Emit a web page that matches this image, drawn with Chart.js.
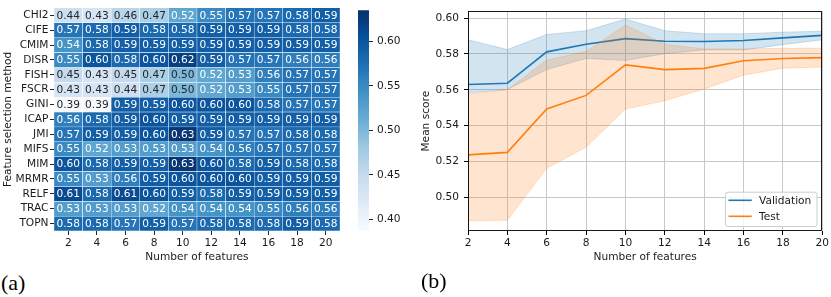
<!DOCTYPE html>
<html><head><meta charset="utf-8">
<script src="https://cdn.jsdelivr.net/npm/chart.js@4.4.0/dist/chart.umd.min.js"></script>
<style>
html,body{margin:0;padding:0;background:#fff;}
body{width:831px;height:297px;position:relative;overflow:hidden;}
canvas{position:absolute;top:0;}
.lab{position:absolute;font-family:'Liberation Serif','DejaVu Serif',serif;font-size:22px;color:#000;line-height:1;}
</style></head>
<body>
<canvas id="heat" width="345" height="270" style="left:0;width:345px;height:270px"></canvas>
<canvas id="cbar" width="60" height="270" style="left:350px;width:60px;height:270px"></canvas>
<canvas id="line" width="411" height="270" style="left:420px;width:411px;height:270px"></canvas>
<div class="lab" style="left:1px;top:272px">(a)</div>
<div class="lab" style="left:421px;top:270px">(b)</div>
<script>
// ---------- data ----------
const methods = ['CHI2','CIFE','CMIM','DISR','FISH','FSCR','GINI','ICAP','JMI','MIFS','MIM','MRMR','RELF','TRAC','TOPN'];
const featureCounts = [2,4,6,8,10,12,14,16,18,20];
const CHI2 = [0.44,0.43,0.46,0.47,0.52,0.55,0.57,0.57,0.58,0.59];
const CIFE = [0.57,0.58,0.59,0.58,0.58,0.59,0.59,0.59,0.58,0.58];
const CMIM = [0.54,0.58,0.59,0.59,0.59,0.59,0.59,0.59,0.59,0.59];
const DISR = [0.55,0.60,0.58,0.60,0.62,0.59,0.57,0.57,0.56,0.56];
const FISH = [0.45,0.43,0.45,0.47,0.50,0.52,0.53,0.56,0.57,0.57];
const FSCR = [0.43,0.43,0.44,0.47,0.50,0.52,0.53,0.55,0.57,0.57];
const GINI = [0.39,0.39,0.59,0.59,0.60,0.60,0.60,0.58,0.57,0.57];
const ICAP = [0.56,0.58,0.59,0.60,0.59,0.59,0.59,0.59,0.59,0.59];
const JMI  = [0.57,0.59,0.59,0.60,0.63,0.59,0.57,0.57,0.58,0.58];
const MIFS = [0.55,0.52,0.53,0.53,0.53,0.54,0.56,0.57,0.57,0.57];
const MIM  = [0.60,0.58,0.59,0.59,0.63,0.60,0.58,0.59,0.58,0.58];
const MRMR = [0.55,0.53,0.56,0.59,0.60,0.60,0.60,0.59,0.59,0.59];
const RELF = [0.61,0.58,0.61,0.60,0.59,0.58,0.59,0.59,0.59,0.59];
const TRAC = [0.53,0.53,0.53,0.52,0.54,0.54,0.54,0.55,0.56,0.56];
const TOPN = [0.58,0.58,0.57,0.59,0.57,0.58,0.58,0.58,0.59,0.58];
const heatRows = [CHI2,CIFE,CMIM,DISR,FISH,FSCR,GINI,ICAP,JMI,MIFS,MIM,MRMR,RELF,TRAC,TOPN];
const colorMin = 0.387, colorMax = 0.635;
const colorbarTicks = [0.40,0.45,0.50,0.55,0.60];

const valMean   = [0.5630,0.5637,0.5812,0.5854,0.5886,0.5871,0.5870,0.5875,0.5890,0.5904];
const valUpper  = [0.5880,0.5825,0.5909,0.5930,0.5995,0.5930,0.5913,0.5913,0.5922,0.5927];
const valLower  = [0.5582,0.5602,0.5713,0.5775,0.5764,0.5802,0.5823,0.5823,0.5852,0.5879];
const testMean  = [0.5237,0.5251,0.5493,0.5569,0.5739,0.5713,0.5720,0.5762,0.5775,0.5780];
const testUpper = [0.5575,0.5600,0.5766,0.5814,0.5962,0.5855,0.5828,0.5828,0.5832,0.5832];
const testLower = [0.4869,0.4872,0.5162,0.5280,0.5493,0.5539,0.5605,0.5682,0.5721,0.5727];
const scoreTicks = [0.50,0.52,0.54,0.56,0.58,0.60];

// ---------- helpers ----------
const FONT = '"DejaVu Sans", sans-serif';
const FS = 10.6;
const TXT = '#1a1a1a';
Chart.defaults.font.family = FONT;
Chart.defaults.font.size = FS;
Chart.defaults.color = TXT;
Chart.defaults.animation = false;

const BLUES = [[247,251,255],[222,235,247],[198,219,239],[158,202,225],[107,174,214],[66,146,198],[33,113,181],[8,81,156],[8,48,107]];
function bluesRGB(t){
  t = Math.max(0, Math.min(1, t));
  const p = t*8, i = Math.min(7, Math.floor(p)), f = p - i;
  const a = BLUES[i], b = BLUES[i+1];
  return [0,1,2].map(k => Math.round(a[k] + (b[k]-a[k])*f));
}
function cmap(v){ const c = bluesRGB((v-colorMin)/(colorMax-colorMin)); return `rgb(${c[0]},${c[1]},${c[2]})`; }
function lum(c){
  const l = c.map(x => { x/=255; return x <= 0.03928 ? x/12.92 : Math.pow((x+0.055)/1.055, 2.4); });
  return 0.2126*l[0] + 0.7152*l[1] + 0.0722*l[2];
}
function textColor(v){ return lum(bluesRGB((v-colorMin)/(colorMax-colorMin))) > 0.408 ? '#262626' : '#ffffff'; }

// ---------- heatmap ----------
const heatText = {
  id: 'heatText',
  afterDatasetsDraw(chart){
    const ctx = chart.ctx;
    ctx.save();
    ctx.font = `${FS}px ${FONT}`;
    ctx.textAlign = 'center';
    ctx.textBaseline = 'middle';
    chart.data.datasets.forEach((ds, r) => {
      chart.getDatasetMeta(r).data.forEach((el, c) => {
        const v = ds.values[c];
        ctx.fillStyle = textColor(v);
        ctx.fillText(v.toFixed(2), el.x, (el.y + el.base)/2 + 0.5);
      });
    });
    ctx.restore();
  }
};

new Chart(document.getElementById('heat'), {
  type: 'bar',
  data: {
    labels: featureCounts.map(String),
    datasets: heatRows.map((vals, r) => ({
      label: methods[r],
      values: vals,
      data: vals.map(() => [r, r+1]),
      backgroundColor: vals.map(cmap),
      borderColor: '#ffffff',
      borderWidth: 0.5,
      borderSkipped: false,
      grouped: false,
      barPercentage: 1,
      categoryPercentage: 1
    }))
  },
  options: {
    responsive: false,
    devicePixelRatio: 1,
    layout: { padding: { top: 1, right: 5, left: 0, bottom: 0 } },
    plugins: { legend: { display: false }, tooltip: { enabled: false } },
    scales: {
      x: {
        type: 'category',
        grid: { display: true, drawOnChartArea: false, drawTicks: true, tickLength: 4, offset: false, color: '#262626', tickColor: '#262626' },
        border: { display: false },
        ticks: { padding: 2, maxRotation: 0, color: TXT },
        title: { display: true, text: 'Number of features', padding: { top: 0, bottom: 6 }, color: TXT },
        afterFit: s => { s.height = 39; }
      },
      y: {
        type: 'linear', min: 0, max: methods.length, reverse: true,
        grid: { display: true, drawOnChartArea: false, drawTicks: true, tickLength: 4, color: '#262626', tickColor: '#262626' },
        border: { display: false },
        afterBuildTicks: s => { s.ticks = methods.map((_, i) => ({ value: i + 0.5 })); },
        ticks: { padding: 1.5, color: TXT, autoSkip: false, callback: v => methods[Math.floor(v)] },
        title: { display: true, text: 'Feature selection method', padding: { top: 2, bottom: 0 }, color: TXT },
        afterFit: s => { s.width = 54; }
      }
    }
  },
  plugins: [heatText]
});

// ---------- colorbar ----------
new Chart(document.getElementById('cbar'), {
  type: 'bar',
  data: {
    labels: [''],
    datasets: [{
      data: [[colorMin, colorMax]],
      backgroundColor: (ctx) => {
        const ca = ctx.chart.chartArea;
        if (!ca) return '#ccc';
        const g = ctx.chart.ctx.createLinearGradient(0, ca.bottom, 0, ca.top);
        BLUES.forEach((c, i) => g.addColorStop(i/8, `rgb(${c[0]},${c[1]},${c[2]})`));
        return g;
      },
      borderWidth: 0,
      barPercentage: 1,
      categoryPercentage: 1
    }]
  },
  options: {
    responsive: false,
    devicePixelRatio: 1,
    layout: { padding: { top: 1, right: 0, left: 8, bottom: 39 } },
    plugins: { legend: { display: false }, tooltip: { enabled: false } },
    scales: {
      x: { display: false },
      y: {
        position: 'right', min: colorMin, max: colorMax,
        grid: { display: true, drawOnChartArea: false, drawTicks: true, tickLength: 4, color: '#262626', tickColor: '#262626' },
        border: { display: false },
        afterBuildTicks: s => { s.ticks = colorbarTicks.map(v => ({ value: v })); },
        ticks: { padding: 4, color: TXT, callback: v => Number(v).toFixed(2) },
        afterFit: s => { s.width = 41; }
      }
    }
  }
});

// ---------- line chart ----------
const BLUE = '#1f77b4', ORANGE = '#ff7f0e';
const BLUE_A = 'rgba(31,119,180,0.2)', ORANGE_A = 'rgba(255,127,14,0.2)';
const pts = arr => featureCounts.map((x, i) => ({ x, y: arr[i] }));
const lineDs = (label, arr, color) => ({ label, data: pts(arr), borderColor: color, borderWidth: 1.6, pointRadius: 0, fill: false, tension: 0 });
const bandDs = (arr, color, fill) => ({ label: '', data: pts(arr), borderColor: color, backgroundColor: color, borderWidth: 1, pointRadius: 0, fill, tension: 0 });

const frame = {
  id: 'frame',
  afterDatasetsDraw(chart){
    const { ctx, chartArea: ca } = chart;
    ctx.save();
    ctx.strokeStyle = '#000';
    ctx.lineWidth = 0.9;
    ctx.strokeRect(Math.round(ca.left) + 0.5, Math.round(ca.top) + 0.5, Math.round(ca.right - ca.left) - 1, Math.round(ca.bottom - ca.top) - 1);
    ctx.restore();
  }
};
const legendBox = {
  id: 'legendBox',
  afterDraw(chart){
    const { ctx, chartArea: ca } = chart;
    const entries = [3, 0].map(i => chart.data.datasets[i]);
    const w = 91.6, h = 34.3;
    const x = ca.right - 5.7 - w, y = ca.bottom - 5 - h;
    ctx.save();
    ctx.beginPath();
    if (ctx.roundRect) ctx.roundRect(x + 0.5, y + 0.5, w, h, 2.5); else ctx.rect(x + 0.5, y + 0.5, w, h);
    ctx.fillStyle = 'rgba(255,255,255,0.8)';
    ctx.fill();
    ctx.strokeStyle = '#cccccc';
    ctx.lineWidth = 1;
    ctx.stroke();
    ctx.font = `${FS}px ${FONT}`;
    ctx.textBaseline = 'middle';
    ctx.textAlign = 'left';
    entries.forEach((ds, k) => {
      const yy = y + 8.6 + k*16;
      ctx.beginPath();
      ctx.moveTo(x + 3.5, yy); ctx.lineTo(x + 26.8, yy);
      ctx.strokeStyle = ds.borderColor; ctx.lineWidth = 1.6; ctx.stroke();
      ctx.fillStyle = TXT;
      ctx.fillText(ds.label, x + 34, yy + 0.5);
    });
    ctx.restore();
  }
};

new Chart(document.getElementById('line'), {
  type: 'line',
  data: {
    datasets: [
      lineDs('Test', testMean, ORANGE),
      bandDs(testUpper, ORANGE_A, '+1'),
      bandDs(testLower, ORANGE_A, false),
      lineDs('Validation', valMean, BLUE),
      bandDs(valUpper, BLUE_A, '+1'),
      bandDs(valLower, BLUE_A, false)
    ]
  },
  options: {
    responsive: false,
    devicePixelRatio: 1,
    layout: { padding: { top: 3, right: 7, left: 0, bottom: 0 } },
    plugins: { legend: { display: false }, tooltip: { enabled: false } },
    scales: {
      x: {
        type: 'linear', min: 2, max: 20,
        grid: { color: '#c8c8c8', lineWidth: 1, drawTicks: true, tickLength: 4, tickColor: '#000' },
        border: { display: false },
        afterBuildTicks: s => { s.ticks = featureCounts.map(v => ({ value: v })); },
        ticks: { padding: 2, maxRotation: 0, color: TXT },
        title: { display: true, text: 'Number of features', padding: { top: 0, bottom: 6 }, color: TXT },
        afterFit: s => { s.height = 39; }
      },
      y: {
        type: 'linear', min: 0.4812, max: 0.6038,
        grid: { color: '#c8c8c8', lineWidth: 1, drawTicks: true, tickLength: 4, tickColor: '#000' },
        border: { display: false },
        afterBuildTicks: s => { s.ticks = scoreTicks.map(v => ({ value: v })); },
        ticks: { padding: 5, color: TXT, callback: v => Number(v).toFixed(2) },
        title: { display: true, text: 'Mean score', padding: { top: 0, bottom: 0 }, color: TXT },
        afterFit: s => { s.width = 48; }
      }
    }
  },
  plugins: [frame, legendBox]
});
</script>
</body></html>
